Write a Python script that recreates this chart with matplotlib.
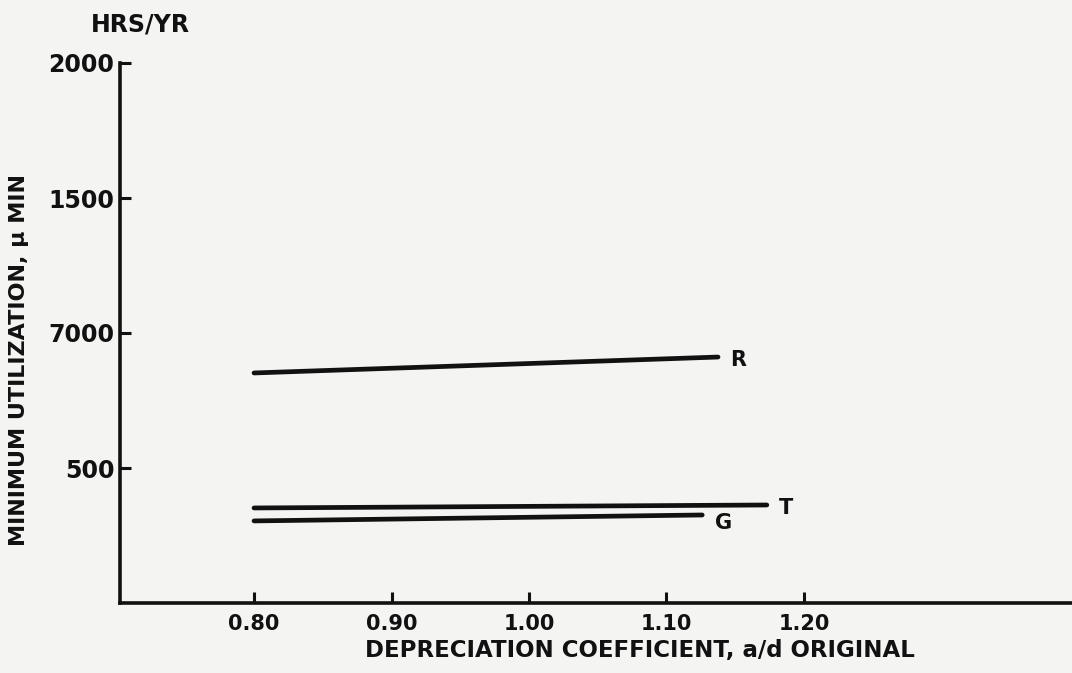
import matplotlib

matplotlib.use("Agg")
import matplotlib.pyplot as plt

# values (hrs/yr vs depreciation coefficient)
series_names = ["R", "T", "G"]
x_start = [0.80, 0.80, 0.80]
x_end = [1.1375, 1.173, 1.126]
y_start = [852, 352, 304]
y_end = [911, 363, 326]

x_ticks = [0.80, 0.90, 1.00, 1.10, 1.20]
x_tick_labels = ["0.80", "0.90", "1.00", "1.10", "1.20"]
y_ticks = [500, 1000, 1500, 2000]
# the scan really prints "7000" at the 1000 mark
y_tick_labels = ["500", "7000", "1500", "2000"]

BG = "#f4f4f2"
INK = "#111111"


def draw(filepath: str) -> None:
    fig = plt.figure(figsize=(10.72, 6.73), dpi=100, facecolor=BG)
    ax = fig.add_axes([120 / 1072, 70 / 673, 1 - 120 / 1072, 540 / 673])
    ax.set_facecolor(BG)

    for name, x0, x1, y0, y1 in zip(series_names, x_start, x_end, y_start, y_end):
        ax.plot([x0, x1], [y0, y1], color=INK, lw=3.4, solid_capstyle="round")
        # letter sits just past the right end of each line
        ax.annotate(
            name,
            (x1, y1),
            xytext=(9, -2 if name != "G" else -6),
            textcoords="offset points",
            ha="left",
            va="center",
            fontsize=15,
            fontweight="bold",
            color=INK,
        )

    ax.set_xlim(0.7025, 1.395)
    ax.set_ylim(0, 2000)

    for side in ["top", "right"]:
        ax.spines[side].set_visible(False)
    for side in ["left", "bottom"]:
        ax.spines[side].set_linewidth(2.6)
        ax.spines[side].set_color(INK)

    ax.set_xticks(x_ticks, x_tick_labels)
    ax.set_yticks(y_ticks, y_tick_labels)
    ax.tick_params(direction="in", length=8, width=2.2, color=INK, labelcolor=INK)
    ax.tick_params(axis="x", pad=8, labelsize=15)
    ax.tick_params(axis="y", pad=4, labelsize=17)
    for lab in ax.get_xticklabels() + ax.get_yticklabels():
        lab.set_fontweight("bold")

    fig.text(
        640 / 1072,
        1 - 650 / 673,
        "DEPRECIATION COEFFICIENT, a/d ORIGINAL",
        ha="center",
        va="center",
        fontsize=16.5,
        fontweight="bold",
        color=INK,
    )
    fig.text(
        19 / 1072,
        1 - 360 / 673,
        "MINIMUM UTILIZATION, \u03bc MIN",
        rotation=90,
        ha="center",
        va="center",
        fontsize=16,
        fontweight="bold",
        color=INK,
    )
    fig.text(
        140 / 1072,
        1 - 24 / 673,
        "HRS/YR",
        ha="center",
        va="center",
        fontsize=17,
        fontweight="bold",
        color=INK,
    )

    fig.savefig(filepath, dpi=100, facecolor=BG)


if __name__ == "__main__":
    draw("out.png")
